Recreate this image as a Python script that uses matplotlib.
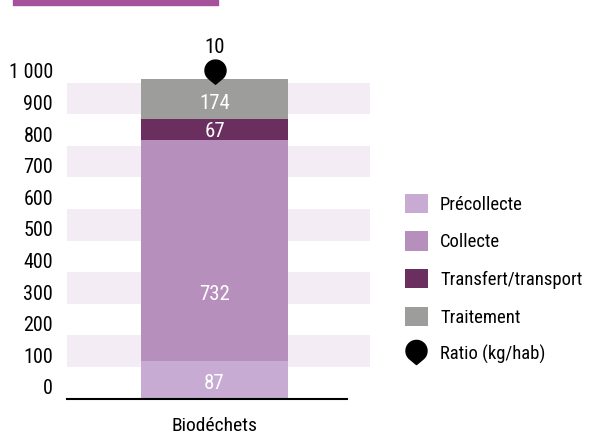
import numpy as np
import matplotlib
matplotlib.use('Agg')
import matplotlib.pyplot as plt
from matplotlib.path import Path
from matplotlib.patches import Patch, Rectangle
from matplotlib.lines import Line2D

plt.rcParams['font.family'] = ['Roboto Condensed', 'DejaVu Sans']

# data
category = 'Biodéchets'
steps = ['Précollecte', 'Collecte', 'Transfert/transport', 'Traitement']
heights = [119, 699, 66, 127]   # segment heights as drawn in the reference
values = [87, 732, 67, 174]     # values printed on the segments
ratio = 10                      # kg/hab
yticks = [0, 100, 200, 300, 400, 500, 600, 700, 800, 900, 1000]
ytick_labels = ['0', '100', '200', '300', '400', '500', '600', '700', '800', '900', '1 000']

# styles
colors = ['#c7abd3', '#b68fbc', '#6a2e5f', '#9d9d9b']
band_color = '#f3ecf5'
label_frac = [0.45, 0.31, 0.5, 0.45]


def pin_marker(c):
    """Map-pin shape: a circle (center at height c) narrowing to a point below it."""
    d = 1.3
    a = np.arccos(1 / d)
    theta = np.linspace(-np.pi / 2 + a, 3 * np.pi / 2 - a, 60)
    verts = np.column_stack([np.cos(theta), c + np.sin(theta)])
    verts = np.vstack([verts, [[0, c - d]], verts[:1]])
    codes = [Path.MOVETO] + [Path.LINETO] * (len(verts) - 2) + [Path.CLOSEPOLY]
    return Path(verts, codes)


pin = pin_marker(0.85)        # tip slightly below the data point
pin_legend = pin_marker(0.15)  # centred for the legend

fig = plt.figure(figsize=(5.91, 4.34), dpi=100)
ax = fig.add_axes([67 / 591, (434 - 398.5) / 434, 303 / 591, (398.5 - 50.9) / 434])
ax.set_ylim(0, 1100)
ax.set_xlim(-0.502, 0.529)

# alternating background bands
for lo in range(100, 1000, 200):
    ax.axhspan(lo, lo + 100, color=band_color, lw=0, zorder=0)

bottom = 0
for h, v, c, f in zip(heights, values, colors, label_frac):
    ax.bar(0, h, 0.5, bottom=bottom, color=c, lw=0, zorder=2)
    ax.text(0, bottom + h * f, str(v), ha='center', va='center_baseline',
            color='white', fontsize=15, zorder=3)
    bottom += h

total = sum(heights)
ax.plot([0], [total], marker=pin, ms=28, color='black', ls='none', zorder=4, clip_on=False)
ax.annotate(str(ratio), (0, total), xytext=(0, 23), textcoords='offset points',
            ha='center', va='center', fontsize=15)

ax.axhline(0, xmin=0, xmax=(347 - 67) / 303, color='black', lw=1.5, clip_on=False, zorder=5)

for s in ax.spines.values():
    s.set_visible(False)
ax.set_yticks(yticks, ytick_labels)
ax.set_xticks([0], [category])
ax.tick_params(axis='y', length=0, pad=10, labelsize=14.5)
ax.tick_params(axis='x', length=0, pad=13, labelsize=14)
for t in ax.get_yticklabels():
    t.set_verticalalignment('bottom')

# legend
handles = [Patch(color=c, lw=0) for c in colors]
handles.append(Line2D([], [], marker=pin_legend, ms=17.4, color='black', ls='none'))
fig.legend(handles, steps + ['Ratio (kg/hab)'], loc='center left',
           bbox_to_anchor=(405 / 591, (434 - 279) / 434), frameon=False,
           fontsize=13.4, handlelength=1.23, handleheight=1.23,
           handletextpad=0.65, labelspacing=0.95, borderpad=0, borderaxespad=0)

# decorative bar at top
fig.patches.append(Rectangle((13 / 591, 1 - 5 / 434), 205 / 591, 5 / 434,
                             transform=fig.transFigure, color='#a6519c'))

fig.savefig('out.png', dpi=100)
